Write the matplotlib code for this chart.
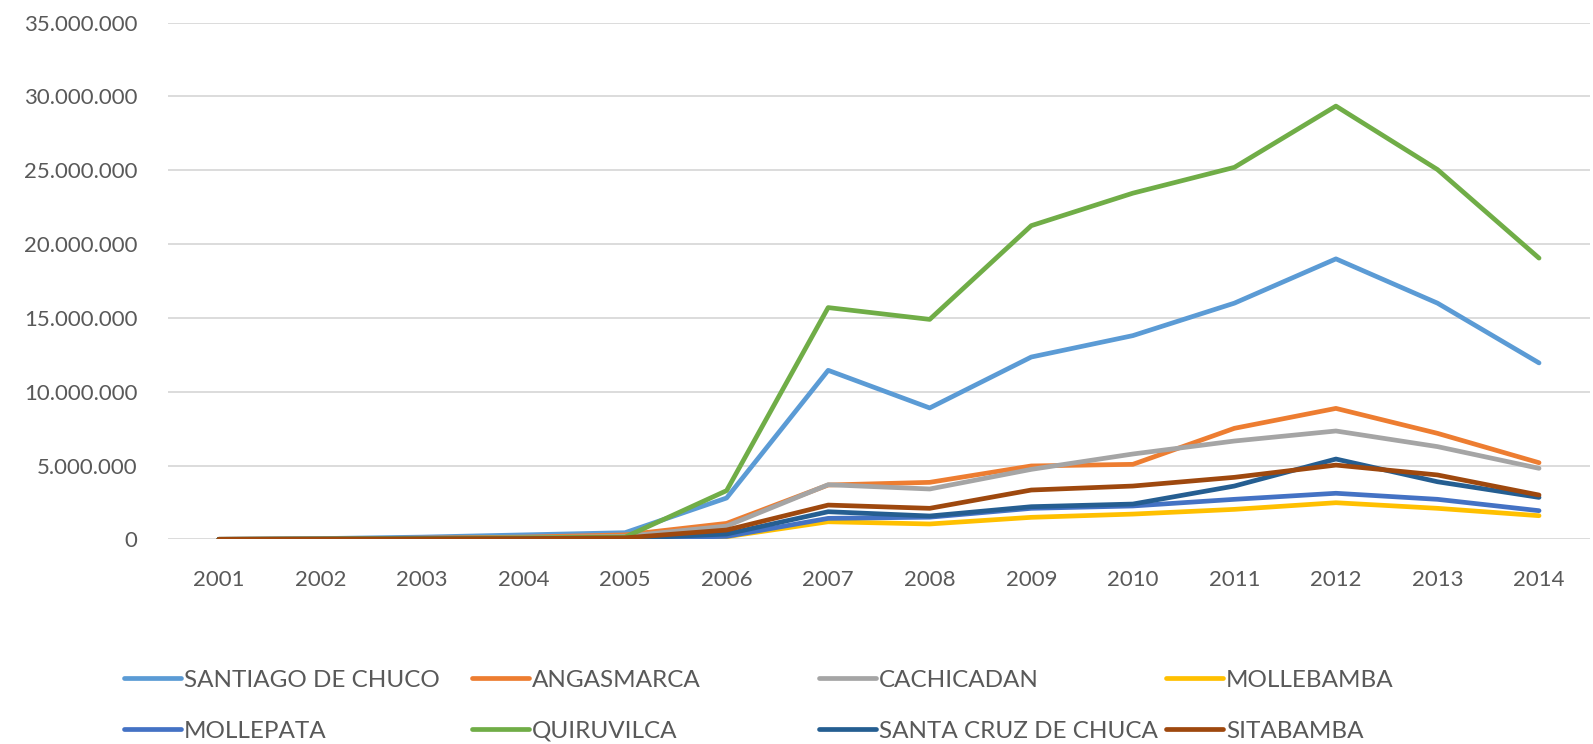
import matplotlib
matplotlib.use("Agg")
import matplotlib.pyplot as plt
from matplotlib.ticker import FuncFormatter, MultipleLocator
from matplotlib.lines import Line2D

years = ["2001", "2002", "2003", "2004", "2005", "2006", "2007",
         "2008", "2009", "2010", "2011", "2012", "2013", "2014"]

santiago_de_chuco = [0, 0.05e6, 0.15e6, 0.3e6, 0.45e6, 2.8e6, 11.45e6, 8.9e6, 12.35e6, 13.8e6, 16.0e6, 19.0e6, 16.0e6, 11.95e6]
angasmarca = [0, 0.03e6, 0.08e6, 0.15e6, 0.3e6, 1.08e6, 3.68e6, 3.86e6, 4.97e6, 5.08e6, 7.52e6, 8.87e6, 7.18e6, 5.19e6]
cachicadan = [0, 0.02e6, 0.05e6, 0.1e6, 0.2e6, 0.9e6, 3.7e6, 3.41e6, 4.74e6, 5.78e6, 6.66e6, 7.34e6, 6.28e6, 4.81e6]
mollebamba = [0, 0.01e6, 0.02e6, 0.03e6, 0.05e6, 0.18e6, 1.19e6, 1.04e6, 1.49e6, 1.71e6, 2.03e6, 2.48e6, 2.1e6, 1.6e6]
mollepata = [0, 0.01e6, 0.02e6, 0.03e6, 0.06e6, 0.2e6, 1.42e6, 1.5e6, 2.1e6, 2.26e6, 2.71e6, 3.12e6, 2.71e6, 1.94e6]
quiruvilca = [0, 0.02e6, 0.06e6, 0.1e6, 0.15e6, 3.3e6, 15.7e6, 14.9e6, 21.25e6, 23.45e6, 25.2e6, 29.35e6, 25.05e6, 19.05e6]
santa_cruz_de_chuca = [0, 0.01e6, 0.02e6, 0.03e6, 0.06e6, 0.36e6, 1.87e6, 1.58e6, 2.21e6, 2.39e6, 3.61e6, 5.44e6, 3.9e6, 2.84e6]
sitabamba = [0, 0.01e6, 0.03e6, 0.05e6, 0.1e6, 0.63e6, 2.32e6, 2.1e6, 3.34e6, 3.61e6, 4.2e6, 5.03e6, 4.36e6, 3.0e6]

series_names = ["SANTIAGO DE CHUCO", "ANGASMARCA", "CACHICADAN", "MOLLEBAMBA",
                "MOLLEPATA", "QUIRUVILCA", "SANTA CRUZ DE CHUCA", "SITABAMBA"]
series_values = [santiago_de_chuco, angasmarca, cachicadan, mollebamba,
                 mollepata, quiruvilca, santa_cruz_de_chuca, sitabamba]
colors = ["#5B9BD5", "#ED7D31", "#A5A5A5", "#FFC000",
          "#4472C4", "#70AD47", "#255E91", "#9E480E"]

plt.rcParams['font.family'] = ['Lato', 'DejaVu Sans']

fig = plt.figure(figsize=(15.93, 7.44), dpi=100)
ax = fig.add_axes([0.1055, 0.2751, 0.998 - 0.1055, 0.9695 - 0.2751])

LW = 3.4
x = list(range(len(years)))
for name, vals, c in zip(series_names, series_values, colors):
    ax.plot(x, vals, color=c, linewidth=LW, solid_capstyle='round',
            solid_joinstyle='round', label=name)

ax.set_xlim(-0.5, len(years) - 0.5)
ax.set_ylim(0, 35e6)
ax.set_xticks(x)
ax.set_xticklabels(years)
ax.yaxis.set_major_locator(MultipleLocator(5e6))
ax.yaxis.set_major_formatter(FuncFormatter(lambda v, p: f"{int(v):,}".replace(",", ".")))
ax.grid(axis='y', color='#D9D9D9', linewidth=1.3)
ax.set_axisbelow(True)
for s in ax.spines.values():
    s.set_visible(False)
ax.tick_params(axis='both', length=0, labelsize=16, labelcolor='#595959')
ax.tick_params(axis='y', pad=22)
ax.tick_params(axis='x', pad=22)

# legend: 4 equal-width columns, 2 rows
col_x = [124, 472, 819, 1166]
row_y = [680, 731]
W, H = 1593, 744
for i, (name, c) in enumerate(zip(series_names, colors)):
    row, col = divmod(i, 4)
    h = Line2D([], [], color=c, linewidth=LW, solid_capstyle='round')
    leg = fig.legend([h], [name], loc='center left',
                     bbox_to_anchor=(col_x[col] / W, 1 - row_y[row] / H),
                     frameon=False, fontsize=17.5, handlelength=2.35,
                     handletextpad=0.12, borderpad=0, borderaxespad=0)
    for t in leg.get_texts():
        t.set_color('#595959')

fig.savefig("out.png", dpi=100)
